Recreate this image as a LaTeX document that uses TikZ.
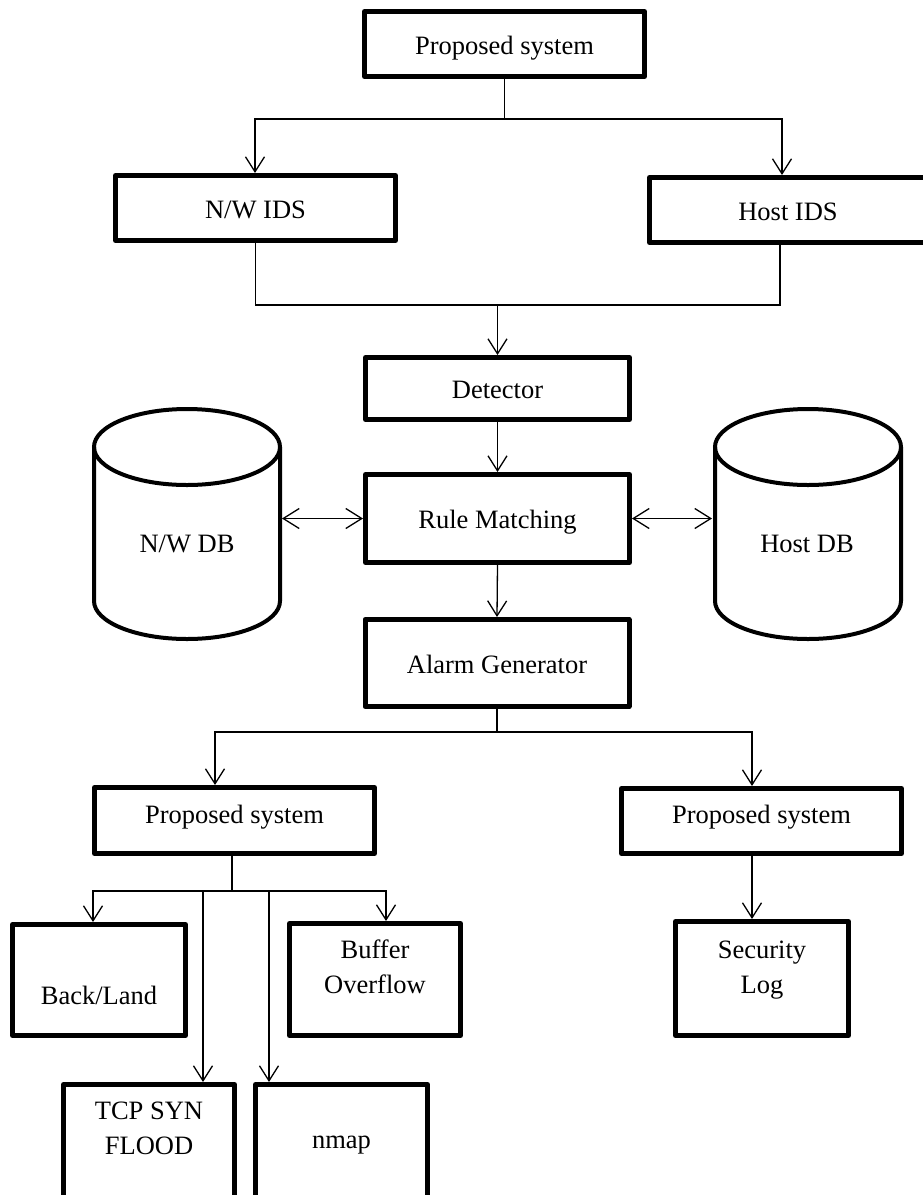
\documentclass[tikz,border=0pt]{standalone}
\usepackage{fontspec}
\setmainfont{Liberation Serif}
\usetikzlibrary{arrows.meta}
\begin{document}
\begin{tikzpicture}[x=1pt,y=-1pt,
  box/.style={draw, line width=5pt, line join=round, inner sep=0pt, outer sep=2.5pt,
              text height=24pt, text depth=4pt, font=\fontsize{26.5}{35}\selectfont},
  lowtext/.style={text height=17pt, text depth=12pt},
  conn/.style={line width=1.3pt},
  arr/.style={line width=1.3pt, -{Straight Barb[length=15pt,width=19pt]}},
  dbl/.style={line width=1.3pt, {Straight Barb[length=16pt,width=20pt]}-{Straight Barb[length=16pt,width=20pt]}},
  cyl/.style={line width=4pt},
  dbtext/.style={inner sep=0pt, outer sep=0pt, minimum width=190pt, font=\fontsize{26.5}{35}\selectfont}]
\useasboundingbox (0,0) rectangle (923,1195);
\clip (0,0) rectangle (923,1195);

% boxes
\node[box, minimum width=280pt, minimum height=65pt] (top) at (504.5,44) {Proposed system};
\node[box, minimum width=280pt, minimum height=65pt] (nwids) at (255.5,208) {N/W IDS};
\node[box, minimum width=277pt, minimum height=65pt] (hostids) at (788,210) {Host IDS};
\node[box, minimum width=264pt, minimum height=62pt] (det) at (497.5,388.5) {Detector};
\node[box, minimum width=264pt, minimum height=88pt] (rule) at (497.5,518.5) {Rule Matching};
\node[box, minimum width=264pt, minimum height=87pt] (alarm) at (497,663) {Alarm Generator};
\node[box, lowtext, minimum width=280pt, minimum height=66pt] (lprop) at (234.5,820.5) {Proposed system};
\node[box, lowtext, minimum width=280pt, minimum height=65pt] (rprop) at (761.5,821) {Proposed system};
\node[box, anchor=north, minimum width=173pt, text height=79.5pt, text depth=31.5pt] (backland) at (99,922) {Back/Land};
\node[box, anchor=north, minimum width=171pt, text height=34.5pt, text depth=77.5pt] (buffer) at (375,921) {\parbox[t]{165pt}{\centering Buffer\\Overflow}};
\node[box, anchor=north, minimum width=173pt, text height=36.5pt, text depth=77.5pt] (seclog) at (762,919) {\parbox[t]{165pt}{\centering Security\\Log}};
\node[box, anchor=north, minimum width=171pt, text height=34.5pt, text depth=150pt] (tcp) at (149,1082) {\parbox[t]{165pt}{\centering TCP SYN\\FLOOD}};
\node[box, anchor=north, minimum width=172pt, text height=63.5pt, text depth=120pt] (nmap) at (341.5,1082) {nmap};

% databases
\draw[cyl] (94,447) -- (94,601) arc[start angle=180, end angle=0, x radius=93, y radius=38] -- (280,447);
\draw[cyl] (187,447) ellipse [x radius=93, y radius=38];
\node[dbtext] (nwdb) at (187,544) {N/W DB};
\draw[cyl] (715,447) -- (715,601) arc[start angle=180, end angle=0, x radius=93, y radius=38] -- (901,447);
\draw[cyl] (808,447) ellipse [x radius=93, y radius=38];
\node[dbtext] (hostdb) at (807,544) {Host DB};

% junctions
\coordinate (j1) at (504.5,119);
\coordinate (j2) at (497.5,305);
\coordinate (j3) at (497,732);
\coordinate (j4) at (232,891);
\coordinate (b1) at (203,891);
\coordinate (b2) at (269,891);

% connectors
\draw[conn] (top.south) -- (j1);
\draw[arr] (j1) -| ([xshift=-0.5pt]nwids.north);
\draw[arr] (j1) -| ([xshift=-6pt]hostids.north);
\draw[conn] (nwids.south) |- (j2) -| ([xshift=-8pt]hostids.south);
\draw[arr] (j2) -- (det.north);
\draw[arr] (det.south) -- (rule.north);
\draw[arr] (rule.south) -- (alarm.north);
\draw[dbl] (nwdb.east |- rule.west) -- (rule.west);
\draw[dbl] (rule.east) -- (rule.east -| hostdb.west);
\draw[conn] (alarm.south) -- (j3);
\draw[arr] (j3) -| ([xshift=-19.5pt]lprop.north);
\draw[arr] (j3) -| ([xshift=-9.5pt]rprop.north);
\draw[arr] ([xshift=-9.5pt]rprop.south) -- ([xshift=-9.5pt]rprop.south |- seclog.north);
\draw[conn] ([xshift=-2.5pt]lprop.south) -- (j4);
\draw[arr] (j4) -| ([xshift=-6pt]backland.north);
\draw[arr] (j4) -| ([xshift=11pt]buffer.north);
\draw[arr] (b1) -- (b1 |- tcp.north);
\draw[arr] (b2) -- (b2 |- nmap.north);
\end{tikzpicture}
\end{document}
